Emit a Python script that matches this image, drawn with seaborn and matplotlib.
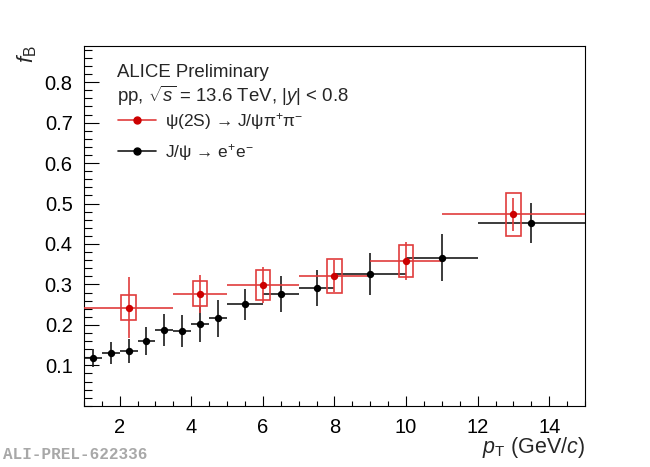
import matplotlib
matplotlib.use("Agg")
import matplotlib.pyplot as plt
from matplotlib.patches import Rectangle
from matplotlib.lines import Line2D
from matplotlib.ticker import MultipleLocator, FixedLocator
import seaborn as sns
import numpy as np
import pandas as pd

# J/psi -> e+e- (non-prompt fraction)
jpsi_lo = [1.0, 1.5, 2.0, 2.5, 3.0, 3.5, 4.0, 4.5, 5.0, 6.0, 7.0, 8.0, 10.0, 12.0]
jpsi_hi = [1.5, 2.0, 2.5, 3.0, 3.5, 4.0, 4.5, 5.0, 6.0, 7.0, 8.0, 10.0, 12.0, 15.0]
jpsi_fb = [0.119, 0.130, 0.136, 0.160, 0.188, 0.185, 0.202, 0.216, 0.251, 0.276, 0.291, 0.326, 0.366, 0.452]
jpsi_err = [0.022, 0.027, 0.030, 0.034, 0.040, 0.040, 0.044, 0.045, 0.039, 0.045, 0.045, 0.052, 0.058, 0.050]

# psi(2S) -> J/psi pi+ pi-
psi_lo = [1.0, 3.5, 5.0, 7.0, 9.0, 11.0]
psi_hi = [3.5, 5.0, 7.0, 9.0, 11.0, 15.0]
psi_fb = [0.243, 0.277, 0.298, 0.321, 0.358, 0.473]
psi_stat = [0.075, 0.047, 0.045, 0.040, 0.046, 0.041]
psi_syst = [0.032, 0.031, 0.037, 0.042, 0.040, 0.052]

jpsi = pd.DataFrame({"lo": jpsi_lo, "hi": jpsi_hi, "fb": jpsi_fb, "err": jpsi_err})
jpsi["pt"] = (jpsi.lo + jpsi.hi) / 2
psi = pd.DataFrame({"lo": psi_lo, "hi": psi_hi, "fb": psi_fb, "stat": psi_stat, "syst": psi_syst})
psi["pt"] = (psi.lo + psi.hi) / 2

sns.set_style("ticks")
plt.rcParams["font.family"] = ["Liberation Sans", "DejaVu Sans"]
plt.rcParams["mathtext.fontset"] = "custom"
plt.rcParams["mathtext.rm"] = "Liberation Sans"
plt.rcParams["mathtext.it"] = "Liberation Sans:italic"
plt.rcParams["mathtext.bf"] = "Liberation Sans:bold"

RED = "#cc0000"
RED_LINE = "#e03c3c"
BLK = "#1a1a1a"

fig = plt.figure(figsize=(6.5, 4.67), dpi=100)
ax = fig.add_axes([0.129, 0.131, 0.771, 0.771])

# J/psi error bars
ax.errorbar(jpsi.pt, jpsi.fb, xerr=[jpsi.pt - jpsi.lo, jpsi.hi - jpsi.pt], yerr=jpsi.err,
            fmt="none", ecolor=BLK, elinewidth=1.2, capsize=0, zorder=2)
# psi(2S) stat bars + syst boxes
ax.errorbar(psi.pt, psi.fb, xerr=[psi.pt - psi.lo, psi.hi - psi.pt], yerr=psi.stat,
            fmt="none", ecolor=RED_LINE, elinewidth=1.2, capsize=0, zorder=3)
for _, r in psi.iterrows():
    ax.add_patch(Rectangle((r.pt - 0.2, r.fb - r.syst), 0.4, 2 * r.syst,
                           fill=False, edgecolor=RED_LINE, lw=1.2, zorder=3))

sns.scatterplot(data=jpsi, x="pt", y="fb", color="black", s=28, linewidth=0, ax=ax, zorder=4)
sns.scatterplot(data=psi, x="pt", y="fb", color=RED, s=28, linewidth=0, ax=ax, zorder=5)

ax.set_xlim(1, 15)
ax.set_ylim(0, 0.89)
ax.xaxis.set_major_locator(MultipleLocator(2))
ax.xaxis.set_minor_locator(MultipleLocator(0.5))
ax.yaxis.set_major_locator(FixedLocator([0.1, 0.2, 0.3, 0.4, 0.5, 0.6, 0.7, 0.8]))
ax.yaxis.set_minor_locator(MultipleLocator(0.02))
ax.yaxis.set_major_formatter(matplotlib.ticker.FormatStrFormatter("%.1f"))
ax.tick_params(axis="both", which="both", direction="in", top=False, right=False,
               labelsize=14.5, width=0.8, colors="black")
ax.tick_params(axis="x", which="major", length=7.2, pad=8.5)
ax.tick_params(axis="x", which="minor", length=3.6)
ax.tick_params(axis="y", which="major", length=10.8, pad=8)
ax.tick_params(axis="y", which="minor", length=5.4)
for s in ax.spines.values():
    s.set_linewidth(0.8)
    s.set_color("black")
ax.set_xlabel("")
ax.set_ylabel("")

fig.text(0.9, 0.030, r"$p_{\rm T}$ (GeV/$c$)", ha="right", va="baseline", fontsize=15.5)
fig.text(0.042, 0.902, r"$f_{\rm B}$", rotation=90, ha="center", va="top", fontsize=16)

ax.text(0.066, 0.927, "ALICE Preliminary", transform=ax.transAxes, fontsize=13.4, va="center")
ax.text(0.066, 0.86, r"pp, $\sqrt{s}$ = 13.6 TeV, |$y$| < 0.8", transform=ax.transAxes,
        fontsize=13.4, va="center")

handles = [Line2D([], [], color=RED_LINE, marker="o", markerfacecolor=RED, markeredgecolor=RED,
                  markersize=5, lw=1.2),
           Line2D([], [], color=BLK, marker="o", markerfacecolor="black", markeredgecolor="black",
                  markersize=5, lw=1.2)]
labels = ["ψ(2S) → J/ψπ$^{+}$π$^{-}$", "J/ψ → e$^{+}$e$^{-}$"]
ax.legend(handles, labels, loc="upper left", bbox_to_anchor=(0.068, 0.82), frameon=False,
          fontsize=12.5, handlelength=2.2, handletextpad=0.5, borderpad=0, borderaxespad=0,
          labelspacing=0.6)

fig.text(0.005, 0.018, "ALI-PREL-622336", fontsize=11.5, color="#a8a8a8",
         family=["Liberation Mono", "DejaVu Sans Mono"], weight="bold")

fig.savefig("out.png", dpi=100)
